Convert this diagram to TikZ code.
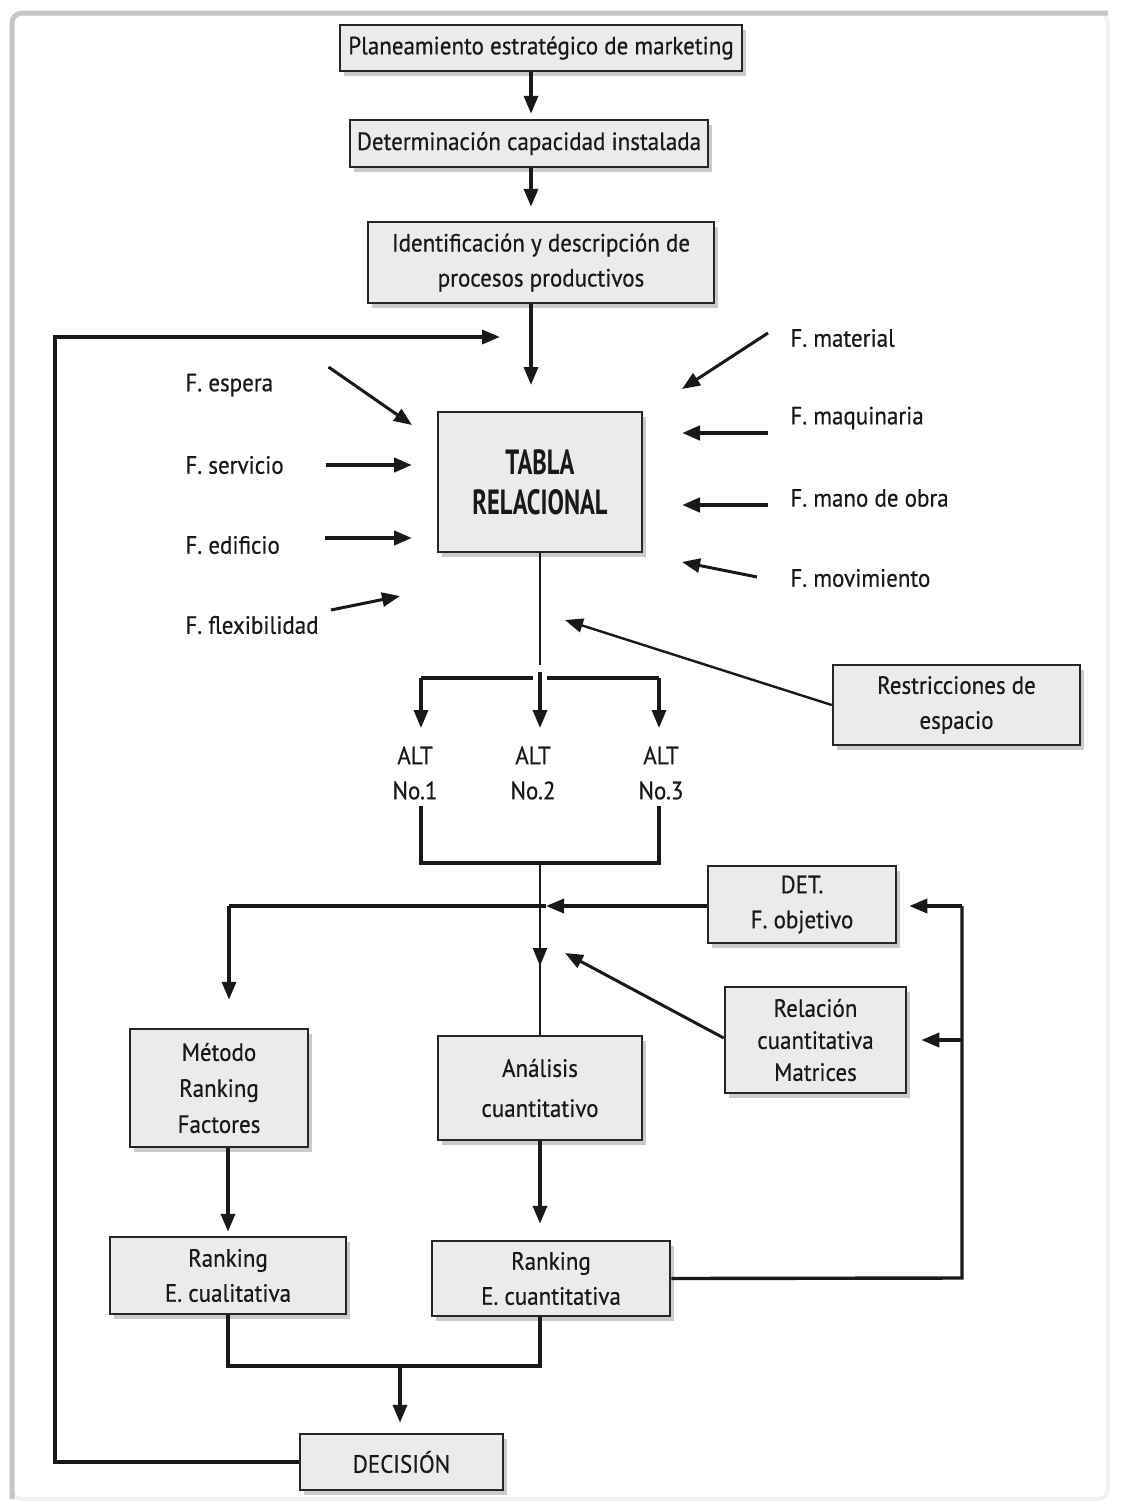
\documentclass[tikz,border=0pt]{standalone}
\usepackage{fontspec}
\setmainfont{PT Sans}[FakeStretch=0.92, FakeBold=0.5]
\newfontfamily\headfont{PT Sans}[FakeStretch=0.7]
\usetikzlibrary{arrows.meta,shadows}
\begin{document}
\begin{tikzpicture}[x=0.5pt,y=-0.5pt,
  every node/.style={font=\fontsize{12.5}{17.5}\selectfont, text=black!90},
  box/.style={draw=black!85, line width=1.25pt, fill=gray!16, align=center, inner sep=0pt,
    drop shadow={shadow xshift=2pt, shadow yshift=-2.5pt, fill=gray!45, opacity=0.9}},
  lbl/.style={anchor=west, inner sep=0pt},
  altlbl/.style={align=center, inner sep=0pt},
  conn/.style={draw=black!90, line width=1.7pt},
  thinconn/.style={draw=black!90, line width=1.2pt},
  ahead/.style={-{Triangle[length=9pt,width=7pt]}},
  arr/.style={conn, ahead},
  farr/.style={draw=black!90, line width=2.1pt, ahead},
  darr/.style={draw=black!90, line width=1.5pt, ahead},
]
% page and frame
\useasboundingbox (0,0) rectangle (1120,1505);
\fill[white] (0,0) rectangle (1120,1505);
\draw[gray!12, line width=2pt, rounded corners=5pt] (12,13) rectangle (1108,1499);
\draw[gray!45, line width=2.5pt, rounded corners=5pt] (12,1499) -- (12,13) -- (1108,13);

% boxes
\node[box, minimum width=201pt, minimum height=23pt] (plan) at (541,48) {Planeamiento estratégico de marketing};
\node[box, minimum width=179pt, minimum height=23.5pt] (capac) at (529,143.5) {Determinación capacidad instalada};
\node[box, minimum width=173pt, minimum height=40.5pt] (ident) at (541,262.5) {Identificación y descripción de\\procesos productivos};
\node[box, minimum width=102pt, minimum height=70pt, font=\headfont\bfseries\fontsize{17.5}{20}\selectfont] (tabla) at (540,482) {TABLA\\RELACIONAL};
\node[box, minimum width=123.5pt, minimum height=40pt] (restr) at (956.5,705) {Restricciones de\\espacio};
\node[box, minimum width=94pt, minimum height=38.5pt] (detf) at (802,904.5) {DET.\\F. objetivo};
\node[box, minimum width=90.5pt, minimum height=53pt, font=\fontsize{12.5}{16}\selectfont] (rel) at (815.5,1040) {Relación\\cuantitativa\\Matrices};
\node[box, minimum width=89pt, minimum height=59pt, font=\fontsize{12.5}{18}\selectfont] (metodo) at (219,1088) {Método\\Ranking\\Factores};
\node[box, minimum width=102pt, minimum height=52pt, font=\fontsize{12.5}{20}\selectfont] (analisis) at (540,1088) {Análisis\\cuantitativo};
\node[box, minimum width=118pt, minimum height=38.5pt] (rkcual) at (228,1275.5) {Ranking\\E. cualitativa};
\node[box, minimum width=119pt, minimum height=37.5pt] (rkcuan) at (551,1278.5) {Ranking\\E. cuantitativa};
\node[box, minimum width=101.5pt, minimum height=28pt] (decis) at (401.5,1462) {DECISIÓN};

% factor labels
\node[lbl] (fesp) at (185,385) {F. espera};
\node[lbl] (fser) at (185,465) {F. servicio};
\node[lbl] (fedi) at (185,545) {F. edificio};
\node[lbl] (fflex) at (185,625) {F. flexibilidad};
\node[lbl] (fmat) at (790,338) {F. material};
\node[lbl] (fmaq) at (790,418) {F. maquinaria};
\node[lbl] (fmano) at (790,498) {F. mano de obra};
\node[lbl] (fmov) at (790,578) {F. movimiento};

% alternatives
\node[altlbl] (alt1) at (415,773) {ALT\\No.1};
\node[altlbl] (alt2) at (533,773) {ALT\\No.2};
\node[altlbl] (alt3) at (661,773) {ALT\\No.3};

% helper coordinates
\coordinate (cx) at (531,0);
\coordinate (tin) at (531,385);
\coordinate (lp) at (500,337);
\coordinate (b1) at (421,678);
\coordinate (b2) at (540,678);
\coordinate (b3) at (659,678);
\coordinate (j1) at (421,863);
\coordinate (j2) at (540,863);
\coordinate (j3) at (659,863);
\coordinate (dmark) at (546,906);
\coordinate (dl) at (229,906);
\coordinate (cmark) at (540,966);
\coordinate (rl) at (962,1278);
\coordinate (m1) at (228,1366);
\coordinate (m2) at (540,1366);
\coordinate (md) at (400,1366);
\coordinate (ll) at (55,1462);

% main chain
\draw[arr, shorten >=2.5pt] (plan.south -| cx) -- (capac.north -| cx);
\draw[arr, shorten >=7pt] (capac.south -| cx) -- (ident.north -| cx);
\draw[arr] (ident.south -| cx) -- (tin);

% factor arrows
\draw[darr] (fesp.east) ++(55,-18) -- (412,425);
\draw[farr] (fser.east) ++(42,0) -- (412,465);
\draw[farr] (fedi.east) ++(45,-7) -- (412,538);
\draw[darr] (fflex.east) ++(12,-15) -- (400,596);
\draw[darr] (fmat.west) ++(-22,-5) -- (682,389);
\draw[farr] (fmaq.west) ++(-22,15) -- (682,433);
\draw[farr] (fmano.west) ++(-22,7) -- (682,505);
\draw[darr] (fmov.west) ++(-33,-1) -- (682,562);

% restrictions
\draw[thinconn, ahead] (restr.west) -- (565,620);

% split into alternatives
\draw[thinconn] (tabla.south) -- (540,665);
\draw[conn] (b1) -- (533,678);
\draw[conn] (547,678) -- (b3);
\draw[arr, shorten >=9pt] (b1) -- (b1 |- alt1.north);
\draw[arr, shorten >=9pt] (540,672) -- (b2 |- alt2.north);
\draw[arr, shorten >=9pt] (b3) -- (b3 |- alt3.north);

% join of alternatives
\draw[conn] (j1 |- alt1.south) ++(0,6) -- (j1) -- (j3) -- ([yshift=-3pt]j3 |- alt3.south);
\draw[thinconn] (j2) -- (analisis.north);
\draw[thinconn, ahead] (j2) -- (cmark);

% objective function
\draw[arr] (detf.west |- dmark) -- (dmark);
\draw[conn] (dmark) -- (dl);
\draw[arr, shorten >=14pt] (dl) -- (metodo.north -| dl);
\draw[darr] (rel.west) ++(0,-2) -- (565,953);

% quantitative feedback
\draw[conn] (rkcuan.east) -- (rl) -- (rl |- dmark) coordinate (rtop);
\draw[arr, shorten >=6pt] (rtop) -- (rtop -| detf.east);
\draw[arr, shorten >=7pt] (rl |- rel.east) -- (rel.east);

% rankings
\draw[arr, shorten >=2pt] (metodo.south -| m1) -- (rkcual.north -| m1);
\draw[arr, shorten >=8pt] (analisis.south -| m2) -- (rkcuan.north -| m2);
\draw[conn] (rkcual.south -| m1) -- (m1) -- (m2) -- (rkcuan.south -| m2);
\draw[arr, shorten >=5pt] (md) -- (decis.north -| md);

% decision loop
\draw[arr] (decis.west) -- (ll) -- (ll |- lp) -- (lp);
\end{tikzpicture}
\end{document}
